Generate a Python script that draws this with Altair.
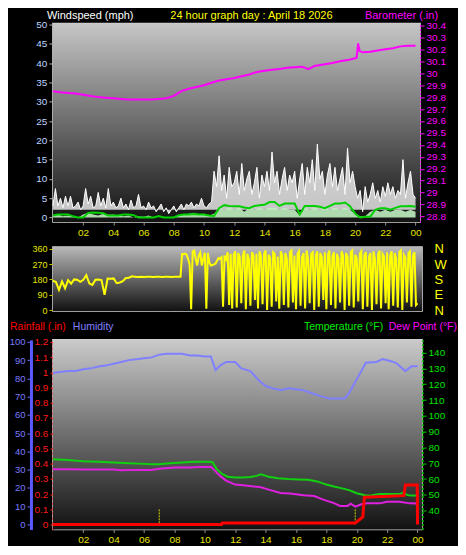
import altair as alt
import numpy as np
import pandas as pd

FONT = "Liberation Sans"

# ---------------- data ----------------
# wind gust (mph), 10-minute samples 00:00 .. 24:00
gust = [
    3, 7.5, 3, 5, 2.5, 5.5,
    3, 5.5, 2.5, 3, 4, 2,
    3, 7.5, 3.5, 5.5, 2.5, 3,
    6.5, 3, 5, 2.5, 7.5, 3,
    4, 2.5, 3, 5, 2.5, 3.5,
    2, 4.5, 2.5, 3, 6, 2.5,
    3, 2, 4, 2.5, 3, 1.5,
    2.5, 3.5, 1.5, 2.5, 1, 2,
    3, 1.5, 2.5, 3.5, 2, 3.5,
    3, 4, 2.5, 3.5, 3, 5,
    3, 2.5, 3.5, 4, 12, 8,
    16, 7, 11, 5, 13, 8,
    9, 12, 6, 14, 7, 10,
    12, 6, 9, 13, 5, 11,
    8, 12, 7, 17, 9, 12,
    6, 10, 13, 7, 11, 9,
    12, 5, 10, 14, 6, 13,
    9, 15, 7, 19, 10, 12,
    6, 11, 14, 8, 13, 7,
    10, 13, 6, 18, 9, 12,
    8, 5, 7, 1.5, 8, 4,
    6, 9, 5, 7, 4, 8,
    5.5, 9, 6, 8, 5, 7,
    6, 15, 5, 9, 12, 6,
    5,
]
# wind speed and average speed (mph), 20-minute samples
speed = [
    0.5, 0.8, 0.3, 0.5, 0.3, 0, 0.8, 1.2, 0.8, 0.5, 1, 0.7,
    0.8, 0.5, 0.3, 0.5, 0, 0.3, 0.2, 0.5, 0, 0, 0.2, 0,
    0.2, 0.5, 0.8, 1, 1.2, 0.8, 1, 0.5, 1, 2.5, 2, 2.5,
    2, 2.5, 1.5, 2.5, 2, 2.5, 2, 2.5, 2.5, 2, 2.5, 2,
    2, 0.5, 2.5, 2, 2.5, 2, 2.5, 2, 2.5, 2, 2.5, 2,
    1, 0.3, 0.3, 1.5, 2, 1.5, 2, 1.5, 2, 2, 1.5, 2,
    1.5,
]
avg = [
    0.5, 0.8, 0.8, 0.8, 0.3, 0, 0, 1.2, 1.3, 1.2, 1.1, 0.5,
    0.5, 0.5, 0.8, 0.8, 0.6, 0, 0, 0, 0, 0.4, 0, 0,
    0, 0.6, 0.8, 0.8, 0.9, 0.8, 0.8, 0.5, 0.4, 2.4, 3.2, 3,
    2.9, 2.9, 2.6, 2.4, 3, 3.2, 3.3, 4, 4, 3, 3.6, 3.6,
    3.6, 0.8, 3, 3, 3, 2.8, 2.4, 3, 3.6, 3.6, 3.9, 2.9,
    1, 0, 0.2, 0.2, 2, 2.4, 2.4, 2, 2.5, 2.9, 2.9, 3,
    2.8,
]
# barometer (in)
baro_hours = [0, 0.5, 1, 1.5, 2, 2.5, 3, 3.5, 4, 4.5,
              5, 5.5, 6, 6.5, 7, 7.5, 8, 8.5, 9, 9.5,
              10, 10.5, 11, 11.5, 12, 12.5, 13, 13.5, 14, 14.5,
              15, 15.5, 16, 16.5, 16.9, 17.3, 17.5,
              18, 18.5, 19, 19.5, 20, 20.1, 20.2, 20.3,
              20.5, 21, 21.5, 22, 22.5, 23, 23.5, 24]
baro = [29.85, 29.84, 29.835, 29.83, 29.82, 29.81, 29.80, 29.795, 29.79, 29.785,
        29.78, 29.78, 29.78, 29.78, 29.785, 29.79, 29.81, 29.85, 29.87, 29.885,
        29.90, 29.92, 29.94, 29.95, 29.96, 29.975, 29.99, 30.01, 30.02, 30.03,
        30.035, 30.045, 30.05, 30.055, 30.035, 30.06, 30.065,
        30.075, 30.085, 30.10, 30.11, 30.125, 30.13, 30.25, 30.185,
        30.175, 30.18, 30.19, 30.20, 30.21, 30.225, 30.23, 30.23]
# wind direction (deg): 0:00-8:24 every 12 min, then 8:30-24:00 every 6 min
dir_early = [172, 165, 118, 168, 128, 176, 155, 180, 178, 166,
             178, 205, 156, 148, 178, 180, 176, 90, 185, 184,
             186, 158, 162, 170, 188, 190, 198, 196,
             194, 195, 194, 195, 195, 194, 195, 195, 194, 195, 195, 194, 195, 195, 195]
dir_late = [330, 328, 332, 325, 300,
            270, 5, 345, 350, 300, 262, 320, 338, 262, 300,
            336, 8, 335, 280, 262, 265, 268, 272, 290, 305,
            300, 310, 20, 320, 300, 340, 30, 330, 10, 325,
            345, 15, 335, 310, 40, 320, 350, 5, 330, 300,
            25, 340, 320, 60, 330, 10, 345, 315, 35, 330,
            350, 0, 325, 305, 20, 340, 330, 50, 315, 8,
            345, 320, 30, 335, 300, 15, 340, 350, 45, 320,
            5, 330, 345, 25, 310, 335, 10, 350, 300, 40,
            330, 340, 0, 320, 345, 20, 335, 310, 60, 340,
            5, 325, 350, 30, 315, 340, 10, 330, 300, 45,
            345, 320, 0, 335, 310, 25, 340, 350, 15, 325,
            305, 50, 330, 345, 5, 320, 340, 20, 310, 335,
            0, 345, 300, 35, 325, 350, 10, 330, 315, 40,
            340, 5, 320, 345, 25, 335, 300, 15, 340, 350,
            0, 325, 310, 45, 335, 345, 20, 320, 340, 30,
            40]
# humidity (%)
hum_hours = [0, 0.5, 1, 1.5, 2, 2.5, 3, 3.5, 4, 4.5,
             5, 5.5, 6, 6.5, 7, 7.5, 8, 8.5, 9, 9.5, 10,
             10.4, 10.7, 11, 11.4, 12, 12.4, 13, 13.6, 14, 14.5,
             15, 15.5, 16, 16.4, 17, 17.6, 18.2, 18.7, 19.2, 19.5,
             20, 20.3, 20.6, 21.3, 21.7, 22.2, 22.6, 23.2, 23.6, 24]
hum = [83, 83.5, 84, 84, 85, 85.5, 86.5, 87, 88, 89,
       90, 90.5, 91, 91.5, 93, 93.5, 93.5, 93.5, 92.5, 92.5, 92,
       92, 84.5, 87, 89, 89, 85.5, 84, 78.5, 75.8, 74.5,
       73.5, 74.6, 74, 73.7, 72, 70.3, 69, 69, 69, 72,
       79.5, 84, 88.6, 89, 90.6, 89.5, 88.4, 84, 86.6, 86.6]
# temperature (F)
temp_hours = [0, 1, 2, 3, 4, 5, 6,
              6.5, 7, 7.5, 8, 8.5, 9, 9.5, 10, 10.5,
              10.8, 11.1, 11.5, 12, 12.5, 13, 13.4, 13.7, 14.2, 14.8,
              15.5, 16.2, 16.8, 17.4, 18, 18.5, 18.9, 19.5, 20, 20.6,
              21, 21.5, 22, 22.8, 23, 23.4, 24]
temp = [72.5, 72, 71.3, 71, 70.5, 70, 69.6,
        69.4, 69.4, 69.8, 70.2, 70.5, 70.8, 71, 71, 70.8,
        66, 63.5, 61.5, 61, 61, 61.3, 62, 63, 61.5, 60.5,
        60, 59.7, 59.5, 58.5, 56.5, 55.3, 54.4, 53, 51, 49.6,
        49.8, 50.5, 50.6, 50.6, 51.2, 49.8, 49.5]
# dew point (F)
dew_hours = [0, 1, 2, 3, 4, 4.5, 5, 6, 6.5, 7,
             8, 9, 9.8, 10.4, 10.7, 11, 11.4, 12, 12.5, 13.1,
             13.7, 14.2, 15, 15.6, 16.5, 17.2, 17.8, 18.5, 18.9, 19.4,
             19.6, 19.9, 20.3, 20.7, 21.5, 22, 22.8, 23.5, 24]
dew = [66.2, 66.2, 66, 66, 66, 65.6, 65.8, 65.8, 65.8, 66.5,
       67.3, 67.3, 67.7, 67.7, 65, 62, 59, 56.5, 56, 55.4,
       54.8, 53.3, 51.2, 50.8, 49.8, 49.2, 47, 44.8, 43, 43,
       44.4, 42.5, 44, 44.6, 44.6, 45.6, 45.6, 44.6, 44.5]
# rainfall (in)
rain_hours = [0, 11.1, 11.15, 19.9, 20.15, 20.4, 20.5, 23.1, 23.2, 23.98, 24.0]
rain = [0, 0, 0.01, 0.01, 0.03, 0.05, 0.18, 0.19, 0.26, 0.26, 0]
rate_hours = [7.0, 19.9]
rate = [0.1, 0.1]

# tick labels
HOUR_TICKS = [2, 4, 6, 8, 10, 12, 14, 16, 18, 20, 22, 24]
WS_TICKS = [0, 5, 10, 15, 20, 25, 30, 35, 40, 45, 50]
BARO_TICKS = [28.8, 28.9, 29.0, 29.1, 29.2, 29.3, 29.4, 29.5, 29.6, 29.7,
              29.8, 29.9, 30.0, 30.1, 30.2, 30.3, 30.4]
DIR_TICKS = [0, 90, 180, 270, 360]
HUM_TICKS = [0, 10, 20, 30, 40, 50, 60, 70, 80, 90, 100]
RAIN_TICKS = [0, 0.1, 0.2, 0.3, 0.4, 0.5, 0.6, 0.7, 0.8, 0.9, 1.0, 1.1, 1.2]
TEMP_TICKS = [40, 50, 60, 70, 80, 90, 100, 110, 120, 130, 140]

# ---------------- tables ----------------
gust_df = pd.DataFrame({"h": np.arange(len(gust)) / 6.0, "gust": gust})
avg_df = pd.DataFrame({"h": np.arange(len(speed)) / 3.0, "speed": speed, "avg": avg})
baro_df = pd.DataFrame({"h": baro_hours, "baro": baro})
dir_df = pd.DataFrame({
    "h": np.concatenate([np.arange(len(dir_early)) * 0.2, 8.5 + np.arange(len(dir_late)) * 0.1]),
    "dir": dir_early + dir_late,
})
hum_df = pd.DataFrame({"h": hum_hours, "hum": hum})
temp_df = pd.DataFrame({"h": temp_hours, "temp": temp})
dew_df = pd.DataFrame({"h": dew_hours, "dew": dew})
rain_df = pd.DataFrame({"h": rain_hours, "rain": rain, "i": np.arange(len(rain))})
rate_df = pd.DataFrame({"h": rate_hours, "rate": rate})
one = pd.DataFrame({"k": [0]})

# ---------------- styling helpers ----------------
X_DOM = [0, 24.3]
LBL = "datum.value == 24 ? '00' : (datum.value < 10 ? '0' + datum.value : '' + datum.value)"
GRID = dict(grid=True, gridColor="#e6e6e6", gridDash=[1, 2], gridOpacity=0.55, gridWidth=1)
YEL = "#e6e600"


def xaxis(labels=True):
    return alt.Axis(values=HOUR_TICKS, labelExpr=LBL, labels=labels, ticks=labels,
                    labelColor=YEL, labelFontSize=10, labelFont=FONT,
                    tickColor="#909090", tickSize=3, domain=False, title=None,
                    labelPadding=2, **GRID)


def X(labels=True):
    return alt.X("h:Q", scale=alt.Scale(domain=X_DOM, nice=False, zero=False), axis=xaxis(labels))


def background(top, bottom):
    return alt.Chart(one).mark_rect(
        fill=alt.Gradient(gradient="linear",
                          stops=[alt.GradientStop(color=top, offset=0),
                                 alt.GradientStop(color=bottom, offset=1)],
                          x1=0, x2=0, y1=0, y2=1),
        strokeWidth=0,
    ).encode(x=alt.value(0), x2=alt.value("width"), y=alt.value(0), y2=alt.value("height"))


def label(txt, x, y, color, align="left", baseline="alphabetic", size=11):
    return alt.Chart(one).mark_text(text=txt, align=align, baseline=baseline, color=color,
                                    fontSize=size, font=FONT).encode(
        x=alt.value(x), y=alt.value(y))


# ---------------- top panel: wind speed + barometer ----------------
W_TOP, H_TOP = 368, 199
ws_scale = alt.Scale(domain=[-1.2, 50.3], nice=False, zero=False)
ws_axis = alt.Axis(values=WS_TICKS, labelColor="#bcd4ff", labelFontSize=10, labelFont=FONT,
                   tickColor="#b0b0b0", tickSize=4, domain=False, title=None,
                   labelPadding=2, **GRID)
baro_scale = alt.Scale(domain=[28.753, 30.416], nice=False, zero=False)
baro_axis = alt.Axis(orient="right", values=BARO_TICKS, format="~g", labelColor="#ff00ff",
                     labelFontSize=10, labelFont=FONT, tickColor="#ff00ff", tickSize=4,
                     domainColor="#ff00ff", domainDash=[2, 2], grid=False, title=None,
                     labelPadding=2)

white_area = alt.Chart(gust_df).mark_area(color="#ffffff", opacity=0.75).encode(
    x=X(), y=alt.Y("gust:Q", scale=ws_scale, axis=ws_axis), y2=alt.datum(2.0))
green_area = alt.Chart(avg_df).mark_area(color="#c0f0c0", opacity=0.9).encode(
    x=X(), y=alt.Y("speed:Q", scale=ws_scale, axis=ws_axis), y2=alt.datum(0))
white_line = alt.Chart(gust_df).mark_line(color="#ffffff", strokeWidth=1).encode(
    x=X(), y=alt.Y("gust:Q", scale=ws_scale, axis=ws_axis))
green_line = alt.Chart(avg_df).mark_line(color="#00d000", strokeWidth=2).encode(
    x=X(), y=alt.Y("avg:Q", scale=ws_scale, axis=ws_axis))
wind = alt.layer(white_area, green_area, white_line, green_line)

baro_line = alt.Chart(baro_df).mark_line(color="#ff00ff", strokeWidth=2).encode(
    x=X(), y=alt.Y("baro:Q", scale=baro_scale, axis=baro_axis))

top = alt.layer(
    background("#c6c6c6", "#121212"), wind, baro_line,
    label("Windspeed (mph)", -6, -5, "#ffffff"),
    label("24 hour graph day : April 18 2026", 199, -5, "#ffff00", align="center"),
    label("Barometer (.in)", 386, -5, "#ff00ff", align="right"),
).resolve_scale(y="independent").properties(width=W_TOP, height=H_TOP)

# ---------------- middle panel: wind direction ----------------
W_MID, H_MID = 370, 64
dir_scale = alt.Scale(domain=[-5, 370], nice=False, zero=False)
dir_axis = alt.Axis(values=DIR_TICKS, labelColor=YEL, labelFontSize=9, labelFont=FONT,
                    tickColor="#c8c800", tickSize=4, domain=False, title=None,
                    labelPadding=2, **GRID)
compass_axis = alt.Axis(orient="right", values=DIR_TICKS, labelColor="#ffff00", labelFontSize=13,
                        labelFont=FONT, ticks=False, domain=False, grid=False, title=None,
                        labelPadding=12,
                        labelExpr="datum.value == 90 ? 'E' : datum.value == 180 ? 'S' : datum.value == 270 ? 'W' : 'N'")
dir_line = alt.Chart(dir_df).mark_line(color="#ffff00", strokeWidth=2).encode(
    x=X(False), y=alt.Y("dir:Q", scale=dir_scale, axis=dir_axis))
dir_compass = alt.Chart(dir_df).mark_line(opacity=0).encode(
    x=X(False), y=alt.Y("dir:Q", scale=dir_scale, axis=compass_axis))
mid = alt.layer(background("#b8b8b8", "#121212"), dir_line, dir_compass).resolve_scale(
    y="independent").properties(width=W_MID, height=H_MID)

# ---------------- bottom panel: humidity, rain, temperature, dew point ----------------
W_BOT, H_BOT = 370, 190
hum_scale = alt.Scale(domain=[-2.7, 101.1], nice=False, zero=False)
hum_axis = alt.Axis(values=HUM_TICKS, offset=22, labelColor="#7b7bff", labelFontSize=9.5,
                    labelFont=FONT, tickColor="#6a6aff", tickSize=4, domainColor="#5a5aff",
                    domainWidth=3, title=None, labelPadding=2, **GRID)
rain_scale = alt.Scale(domain=[-0.032, 1.213], nice=False, zero=False)
rain_axis = alt.Axis(values=RAIN_TICKS, format=".1~f", labelColor="#ff1a1a", labelFontSize=10,
                     labelFont=FONT, tickColor="#ff2020", tickSize=3, domainColor="#ff3030",
                     domainDash=[3, 2], domainWidth=2, grid=False, title=None, labelPadding=2)
temp_scale = alt.Scale(domain=[28.1, 148.1], nice=False, zero=False)
temp_axis = alt.Axis(orient="right", values=TEMP_TICKS, labelColor="#00e000", labelFontSize=10,
                     labelFont=FONT, tickColor="#00d000", tickSize=4, domainColor="#00d000",
                     domainDash=[2, 2], domainWidth=2, grid=False, title=None, labelPadding=2)

hum_line = alt.Chart(hum_df).mark_line(color="#8080ff", strokeWidth=2).encode(
    x=X(), y=alt.Y("hum:Q", scale=hum_scale, axis=hum_axis))
temp_line = alt.Chart(temp_df).mark_line(color="#10d010", strokeWidth=2).encode(
    x=X(), y=alt.Y("temp:Q", scale=temp_scale, axis=temp_axis))
dew_line = alt.Chart(dew_df).mark_line(color="#e020e0", strokeWidth=2).encode(
    x=X(), y=alt.Y("dew:Q", scale=temp_scale, axis=temp_axis))
temps = alt.layer(temp_line, dew_line)
rate_rules = alt.Chart(rate_df).mark_rule(color="#d0d000", strokeWidth=1, strokeDash=[2, 1]).encode(
    x=X(), y=alt.Y("rate:Q", scale=rain_scale, axis=rain_axis), y2=alt.datum(0))
rain_line = alt.Chart(rain_df).mark_line(color="#ff0000", strokeWidth=3).encode(
    x=X(), y=alt.Y("rain:Q", scale=rain_scale, axis=rain_axis), order="i:Q")
rains = alt.layer(rate_rules, rain_line)

bot = alt.layer(
    background("#cacaca", "#121212"), hum_line, temps, rains,
    label("Rainfall (.in)", -43, -13, "#ff0000", baseline="middle", size=10.5),
    label("Humidity", 20, -13, "#8080ff", baseline="middle", size=10.5),
    label("Temperature (°F)", 331, -13, "#00ee00", align="right", baseline="middle", size=10.5),
    label("Dew Point (°F)", 405, -13, "#ff00ff", align="right", baseline="middle", size=10.5),
).resolve_scale(y="independent").properties(width=W_BOT, height=H_BOT)

chart = alt.vconcat(top, mid, bot, spacing=3, padding=0, background="#000000").configure_view(
    stroke="#cfcfcf", strokeWidth=1.5)

chart.save("out.html", embed_options={"renderer": "svg", "actions": False})
